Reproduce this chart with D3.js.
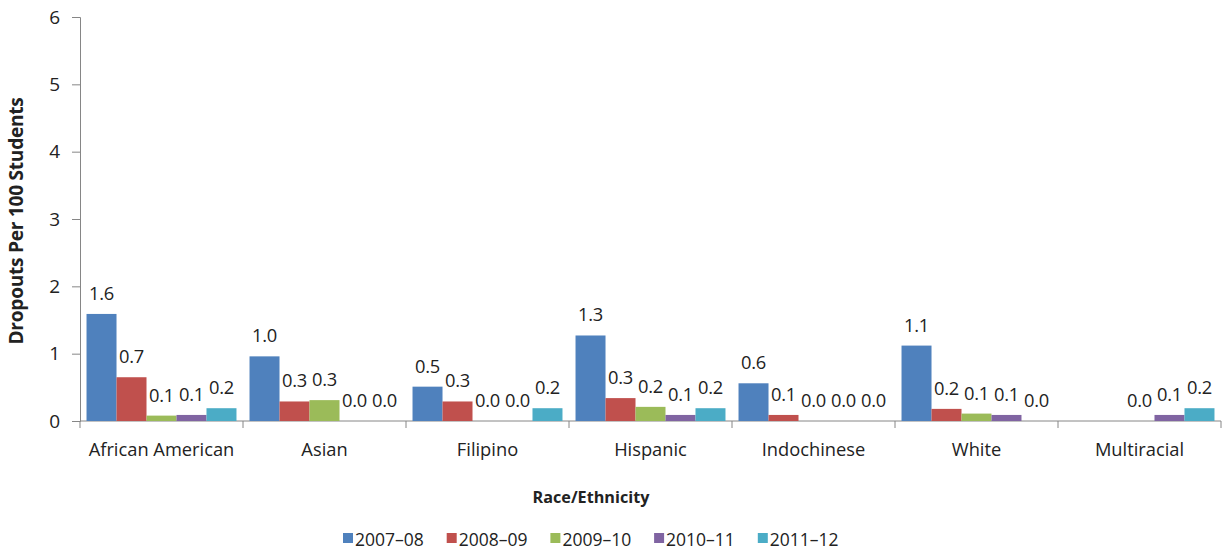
<!DOCTYPE html>
<html><head><meta charset="utf-8">
<script src="https://cdn.jsdelivr.net/npm/d3@7"></script>
<style>body{margin:0;background:#fff}svg{display:block}text{font-family:"Open Sans",sans-serif;fill:#222}</style>
</head><body>
<svg id="c" width="1224" height="553"></svg>
<script>
const categories = ["African American","Asian","Filipino","Hispanic","Indochinese","White","Multiracial"];
const seriesNames = ["2007–08","2008–09","2009–10","2010–11","2011–12"];
const s2007 = [1.59, 0.96, 0.51, 1.27, 0.56, 1.12, null];
const s2008 = [0.65, 0.29, 0.29, 0.34, 0.09, 0.18, null];
const s2009 = [0.08, 0.31, 0.0, 0.21, 0.0, 0.11, 0.0];
const s2010 = [0.09, 0.0, 0.0, 0.09, 0.0, 0.09, 0.09];
const s2011 = [0.19, 0.0, 0.19, 0.19, 0.0, 0.0, 0.19];
const yTicks = [0,1,2,3,4,5,6];
const colors = ["#4F81BD","#C0504D","#9BBB59","#8064A2","#4BACC6"];
const series = [s2007,s2008,s2009,s2010,s2011];

const svg = d3.select("#c");
const m = {l:80, r:1221, t:17, b:421};
const x = d3.scaleBand().domain(categories).range([m.l, m.r]).paddingInner(0.08).paddingOuter(0.04);
const xs = d3.scaleBand().domain(seriesNames).range([0, x.bandwidth()]);
const y = d3.scaleLinear().domain([0,6]).range([m.b, m.t]);

function fit(sel, target){
  const n = sel.node(); const fs = +sel.attr("font-size");
  const w = n.getComputedTextLength(); if(w>0) sel.attr("font-size", fs*target/w);
}
const fsBase = 18.3;

// y axis
const ya = svg.append("g").attr("transform",`translate(${m.l},0)`)
  .call(d3.axisLeft(y).tickValues(yTicks).tickSize(8).tickPadding(12).tickFormat(d3.format("d")));
ya.selectAll("path,line").attr("stroke","#868686");
ya.selectAll("text").attr("font-size",19).style("font-family","'Open Sans',sans-serif").attr("fill","#222");

// x axis
const xa = svg.append("g").attr("transform",`translate(0,${m.b})`);
xa.append("line").attr("x1",m.l).attr("x2",m.r).attr("stroke","#868686");
const step = (m.r-m.l)/categories.length;
const bounds = d3.range(categories.length+1).map(i=>m.l+i*step);
xa.selectAll("line.t").data(bounds).join("line").attr("class","t")
  .attr("x1",d=>d).attr("x2",d=>d).attr("y1",0).attr("y2",7).attr("stroke","#868686");
const xb = d3.scaleBand().domain(categories).range([m.l,m.r]);
xa.selectAll("text").data(categories).join("text")
  .attr("x",d=>xb(d)+xb.bandwidth()/2).attr("y",35).attr("text-anchor","middle")
  .attr("font-size",fsBase).text(d=>d);

// bars
series.forEach((vals,si)=>{
  const g = svg.append("g");
  const data = categories.map((c,i)=>({c, v: vals[i]})).filter(d=>d.v!==null);
  g.selectAll("rect").data(data).join("rect")
    .attr("x",d=>x(d.c)+xs(seriesNames[si])).attr("width",xs.bandwidth())
    .attr("y",d=>y(d.v)).attr("height",d=>m.b-y(d.v)).attr("fill",colors[si]);
  g.selectAll("text").data(data).join("text")
    .attr("x",d=>x(d.c)+xs(seriesNames[si])+xs.bandwidth()/2)
    .attr("y",d=>y(d.v)-14).attr("text-anchor","middle").attr("font-size",fsBase)
    .attr("letter-spacing",-0.3)
    .text(d=>d3.format(".1f")(d.v));
});

// axis titles
const yt = svg.append("text").attr("transform","translate(23,221) rotate(-90)").attr("text-anchor","middle")
  .attr("font-size",16).attr("font-weight","bold").attr("letter-spacing",-0.3).text("Dropouts Per 100 Students");
fit(yt, 246);
const xt = svg.append("text").attr("x",591).attr("y",503).attr("text-anchor","middle")
  .attr("font-size",16).attr("font-weight","bold").text("Race/Ethnicity");
fit(xt, 117);

// legend
const lg = svg.append("g");
seriesNames.forEach((n,i)=>{
  const lx = 343 + i*103.7;
  lg.append("rect").attr("x",lx).attr("y",533).attr("width",10).attr("height",10).attr("fill",colors[i]);
  lg.append("text").attr("x",lx+12).attr("y",546).attr("font-size",17.5).text(n);
});
</script>
</body></html>
